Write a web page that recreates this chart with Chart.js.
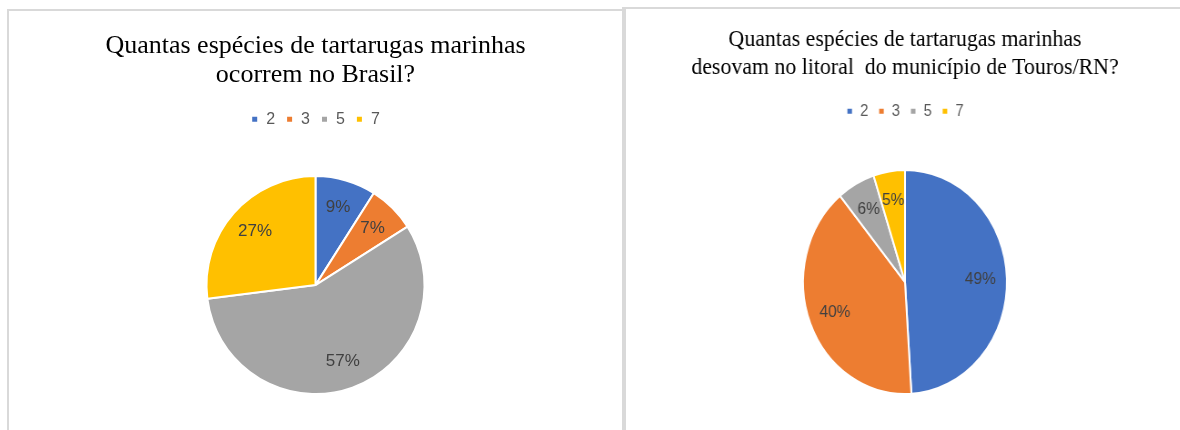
<!DOCTYPE html>
<html>
<head>
<meta charset="utf-8">
<script src="https://cdn.jsdelivr.net/npm/chart.js@4.4.0/dist/chart.umd.min.js"></script>
<style>
  html, body { margin: 0; padding: 0; background: #fff; overflow: hidden; width: 1180px; height: 430px; }
  .panel { position: absolute; border: 2px solid #d9d9d9; border-bottom: none; box-sizing: border-box; }
  #p1 { left: 7px; top: 9px; width: 617px; height: 440px; }
  #p2 { left: 622px; top: 7px; width: 570px; height: 440px; border-left-width: 4px; }
  .box { position: absolute; top: 0; }
  #b1 { left: 7px; }
  #b2 { left: 625px; transform: scaleX(0.91); transform-origin: 50% 50%; }
</style>
</head>
<body>
<div class="panel" id="p1"></div>
<div class="panel" id="p2"></div>
<div class="box" id="b1"><canvas id="brasilChart" width="617" height="460"></canvas></div>
<div class="box" id="b2"><canvas id="tourosChart" width="560" height="460"></canvas></div>
<script>
const categories = ["2", "3", "5", "7"];
const brasilPct = [9, 7, 57, 27];
const tourosPct = [49, 40, 6, 5];
const brasilTitle = ["Quantas espécies de tartarugas marinhas", "ocorrem no Brasil?"];
const tourosTitle = ["Quantas espécies de tartarugas marinhas", "desovam no litoral  do município de Touros/RN?"];
const sliceColors = ["#4472C4", "#ED7D31", "#A5A5A5", "#FFC000"];

// percent labels inside the slices
const pctLabels = {
  id: "pctLabels",
  afterDatasetsDraw(chart) {
    const ctx = chart.ctx;
    const values = chart.data.datasets[0].data;
    ctx.save();
    ctx.font = '17px "Liberation Sans", sans-serif';
    ctx.fillStyle = "#404040";
    ctx.textAlign = "center";
    ctx.textBaseline = "middle";
    chart.getDatasetMeta(0).data.forEach(function (arc, i) {
      const p = arc.getProps(["x", "y", "startAngle", "endAngle", "outerRadius"], true);
      const mid = (p.startAngle + p.endAngle) / 2;
      const r = p.outerRadius * 0.74;
      ctx.fillText(values[i] + "%", p.x + Math.cos(mid) * r, p.y + Math.sin(mid) * r);
    });
    ctx.restore();
  },
};

function makePie(id, values, title, opts) {
  const ctx = document.getElementById(id).getContext("2d");
  return new Chart(ctx, {
    type: "pie",
    data: {
      labels: categories,
      datasets: [
        {
          data: values,
          backgroundColor: sliceColors,
          borderColor: "#ffffff",
          borderWidth: 2,
          radius: opts.radius,
        },
      ],
    },
    options: {
      responsive: false,
      animation: false,
      layout: { padding: { bottom: opts.bottom } },
      plugins: {
        title: {
          display: true,
          text: title,
          color: "#000000",
          font: { family: '"Liberation Serif", serif', size: opts.titleSize, weight: "normal", lineHeight: opts.titleLine },
          padding: { top: opts.titleTop, bottom: opts.titleBottom },
        },
        legend: {
          position: "top",
          labels: {
            color: "#595959",
            font: { family: '"Liberation Sans", sans-serif', size: 16 },
            boxWidth: 7,
            boxHeight: 7,
            padding: 11,
          },
        },
        tooltip: { enabled: false },
      },
    },
    plugins: [pctLabels],
  });
}

makePie("brasilChart", brasilPct, brasilTitle, {
  radius: 109, bottom: 27, titleSize: 26, titleLine: 1.1, titleTop: 32, titleBottom: 11,
});
makePie("tourosChart", tourosPct, tourosTitle, {
  radius: 112, bottom: 25, titleSize: 24, titleLine: 1.17, titleTop: 26, titleBottom: 10,
});
</script>
</body>
</html>
